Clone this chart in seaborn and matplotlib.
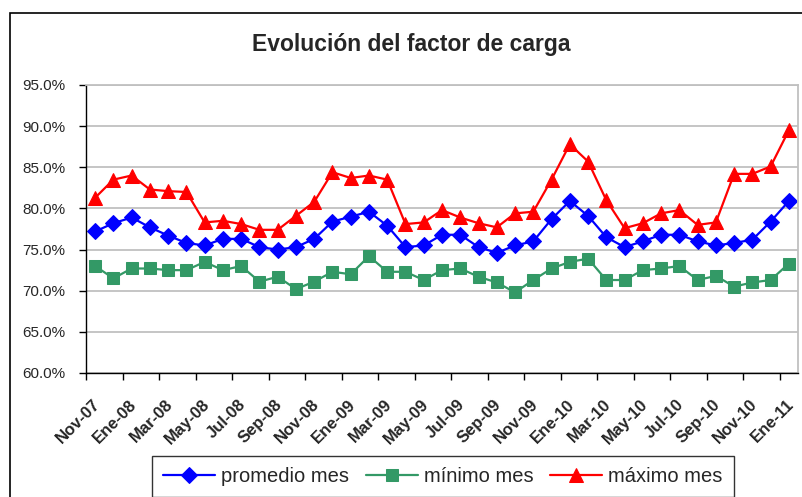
import pandas as pd
import matplotlib
matplotlib.use("Agg")
import matplotlib.pyplot as plt
import seaborn as sns
from matplotlib.patches import Rectangle
from matplotlib.ticker import FuncFormatter
from matplotlib.transforms import ScaledTranslation

# Datos (factor de carga mensual, %)
meses = ["Nov-07", "Dic-07",
         "Ene-08", "Feb-08", "Mar-08", "Abr-08", "May-08", "Jun-08",
         "Jul-08", "Ago-08", "Sep-08", "Oct-08", "Nov-08", "Dic-08",
         "Ene-09", "Feb-09", "Mar-09", "Abr-09", "May-09", "Jun-09",
         "Jul-09", "Ago-09", "Sep-09", "Oct-09", "Nov-09", "Dic-09",
         "Ene-10", "Feb-10", "Mar-10", "Abr-10", "May-10", "Jun-10",
         "Jul-10", "Ago-10", "Sep-10", "Oct-10", "Nov-10", "Dic-10",
         "Ene-11"]

promedio = [77.2, 78.2, 78.9, 77.7, 76.7, 75.8, 75.5, 76.3, 76.3, 75.3,
            75.0, 75.3, 76.3, 78.4, 79.0, 79.6, 77.9, 75.3, 75.5, 76.8,
            76.8, 75.3, 74.6, 75.5, 76.0, 78.7, 80.9, 79.1, 76.5, 75.3,
            76.0, 76.8, 76.8, 76.0, 75.5, 75.8, 76.2, 78.4, 80.9]

minimo = [73.0, 71.5, 72.7, 72.7, 72.5, 72.5, 73.5, 72.5, 73.0, 71.1,
          71.7, 70.2, 71.1, 72.3, 72.0, 74.2, 72.3, 72.3, 71.3, 72.5,
          72.7, 71.7, 71.0, 69.8, 71.3, 72.7, 73.5, 73.9, 71.3, 71.3,
          72.5, 72.7, 73.0, 71.3, 71.8, 70.5, 71.0, 71.3, 73.3]

maximo = [81.3, 83.5, 84.0, 82.3, 82.1, 82.0, 78.3, 78.5, 78.1, 77.4,
          77.4, 79.1, 80.8, 84.4, 83.7, 84.0, 83.5, 78.1, 78.3, 79.8,
          78.9, 78.2, 77.7, 79.4, 79.6, 83.5, 87.8, 85.7, 81.0, 77.6,
          78.2, 79.4, 79.8, 78.0, 78.3, 84.2, 84.2, 85.1, 89.5]

series = ["promedio mes", "mínimo mes", "máximo mes"]
colores = ["#0000FF", "#339966", "#FF0000"]
marcadores = ["D", "s", "^"]
tamanos = [8, 8, 9.5]

df = pd.DataFrame({"mes": meses, series[0]: promedio,
                   series[1]: minimo, series[2]: maximo})
df["pos"] = range(len(df))

sns.set_style("white")
plt.rcParams["font.family"] = ["Liberation Sans", "DejaVu Sans"]

fig = plt.figure(figsize=(8.02, 4.97), dpi=100)
ax = fig.add_axes([86 / 802, 1 - 373 / 497, (798 - 86) / 802, (373 - 85) / 497])

for nombre, color, m, ms in zip(series, colores, marcadores, tamanos):
    sns.lineplot(data=df, x="pos", y=nombre, ax=ax, color=color, marker=m,
                 markersize=ms, markeredgecolor=color, linewidth=1.6,
                 label=nombre, legend=False)

# Ejes
ax.set_xlim(-0.5, len(meses) - 0.5)
ax.set_ylim(60, 95)
ax.set_yticks(range(60, 96, 5))
ax.yaxis.set_major_formatter(FuncFormatter(lambda v, p: f"{v:.1f}%"))
ax.grid(axis="y", color="#C0C0C0", linewidth=1.3)
ax.set_axisbelow(True)
ax.set_xlabel("")
ax.set_ylabel("")

ax.set_xticks([i - 0.5 for i in range(0, len(meses), 2)])
ax.set_xticklabels([])
ax.set_xticks(list(range(0, len(meses), 2)), minor=True)
ax.set_xticklabels(meses[::2], minor=True, rotation=45, ha="right",
                   rotation_mode="anchor", fontsize=12, fontweight="bold")
ax.tick_params(axis="x", which="major", direction="out", length=5,
               width=1, color="black", bottom=True)
ax.tick_params(axis="x", which="minor", length=0, pad=17, bottom=True)
ax.tick_params(axis="y", direction="out", length=5, width=1, color="black",
               left=True, labelsize=11, pad=10)

# Desplazar etiquetas del eje x un poco a la izquierda (como en Excel)
desplazar = ScaledTranslation(-3 / 100, 0, fig.dpi_scale_trans)
for tick in ax.xaxis.get_minor_ticks():
    tick.label1.set_transform(tick.label1.get_transform() + desplazar)

for lado in ["left", "bottom"]:
    ax.spines[lado].set_color("black")
    ax.spines[lado].set_linewidth(1)
for lado in ["top", "right"]:
    ax.spines[lado].set_color("#C0C0C0")
    ax.spines[lado].set_linewidth(1.3)

# Título
fig.text(411 / 802, 1 - 44 / 497, "Evolución del factor de carga",
         ha="center", va="center", fontsize=16.5, fontweight="bold")

# Leyenda
handles, labels = ax.get_legend_handles_labels()
leg = fig.legend(handles, labels, loc="upper left", ncol=3,
                 bbox_to_anchor=(152 / 802, 1 - 456 / 497),
                 fontsize=14.5, frameon=True, fancybox=False,
                 edgecolor="black", handlelength=2.6, handletextpad=0.3,
                 columnspacing=0.8, borderpad=0.55, borderaxespad=0)
leg.get_frame().set_linewidth(1)

# Borde exterior del gráfico
fig.patches.append(Rectangle((10 / 802, -0.2), 1.2, 1.2 - 13 / 497,
                             transform=fig.transFigure, fill=False,
                             edgecolor="black", linewidth=1.2))

plt.savefig("out.png", dpi=100)
plt.close()
